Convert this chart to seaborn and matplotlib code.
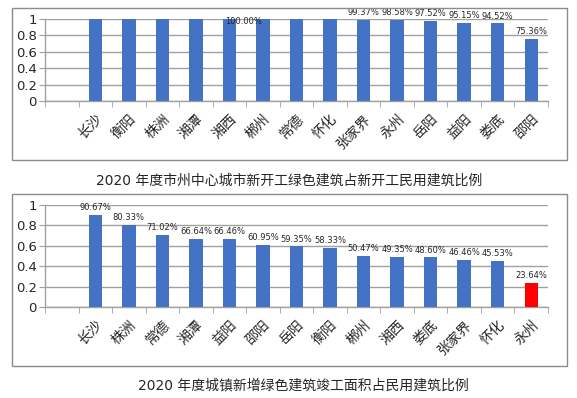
import numpy as np
import pandas as pd
import seaborn as sns
import matplotlib.pyplot as plt
from matplotlib.patches import Rectangle
from matplotlib.ticker import FixedLocator, FuncFormatter

# top chart: 市州中心城市新开工绿色建筑占比
top_cities = ["长沙", "衡阳", "株洲", "湘潭", "湘西", "郴州", "常德",
              "怀化", "张家界", "永州", "岳阳", "益阳", "娄底", "邵阳"]
top_values = [1.0, 1.0, 1.0, 1.0, 1.0, 1.0, 1.0,
              1.0, 0.9937, 0.9858, 0.9752, 0.9515, 0.9452, 0.7536]
top_labels = ["", "", "", "", "", "100.00%", "",
              "", "99.37%", "98.58%", "97.52%", "95.15%", "94.52%", "75.36%"]
top_title = "2020 年度市州中心城市新开工绿色建筑占新开工民用建筑比例"

# bottom chart: 城镇新增绿色建筑竣工面积占比
bot_cities = ["长沙", "株洲", "常德", "湘潭", "益阳", "邵阳", "岳阳",
              "衡阳", "郴州", "湘西", "娄底", "张家界", "怀化", "永州"]
bot_values = [0.9067, 0.8033, 0.7102, 0.6664, 0.6646, 0.6095, 0.5935,
              0.5833, 0.5047, 0.4935, 0.4860, 0.4646, 0.4553, 0.2364]
bot_title = "2020 年度城镇新增绿色建筑竣工面积占民用建筑比例"

yticks = [0, 0.2, 0.4, 0.6, 0.8, 1.0]

sns.set_style("white")
plt.rcParams["font.family"] = ["DejaVu Sans", "Noto Sans CJK SC"]

BLUE = "#4472C4"
RED = "#FF0000"
GRID = "#A0A0A0"
BOX = "#8C8C8C"

W, H = 577, 398
fig = plt.figure(figsize=(W / 100, H / 100), dpi=100)


def px_rect(x0, y0, x1, y1):
    # pixel box (top-left origin) -> figure fraction rect
    return [x0 / W, 1 - y1 / H, (x1 - x0) / W, (y1 - y0) / H]


# outer frames
for box in [(12, 8, 567, 160), (12, 194, 567, 366)]:
    l, b, w, h = px_rect(*box)
    fig.patches.append(Rectangle((l, b), w, h, transform=fig.transFigure,
                                 fill=False, edgecolor=BOX, linewidth=1.0))


def draw(ax, cities, values, colors, labels):
    df = pd.DataFrame({"city": cities, "value": values})
    sns.barplot(data=df, x="city", y="value", hue="city", palette=colors,
                legend=False, width=0.4, saturation=1, linewidth=0,
                ax=ax, zorder=3)
    n = len(cities)
    ax.set_xlim(-1.5, n - 0.5)
    ax.set_ylim(0, 1.0)
    ax.set_xlabel("")
    ax.set_ylabel("")
    ax.set_yticks(yticks)
    ax.yaxis.set_major_formatter(FuncFormatter(lambda v, p: "%g" % v))
    ax.yaxis.grid(True, color=GRID, linewidth=1.0, zorder=0)
    ax.tick_params(axis="y", length=4, color=GRID, labelsize=9.5, pad=2,
                   left=True)
    # category boundaries get the tick marks, like the office chart
    ax.xaxis.set_minor_locator(FixedLocator(np.arange(-1.5, n, 1.0)))
    ax.tick_params(axis="x", which="major", length=0, pad=8)
    ax.tick_params(axis="x", which="minor", length=4, color=GRID,
                   bottom=True)
    ax.set_xticks(range(n))
    ax.set_xticklabels(cities, rotation=45, ha="right",
                       rotation_mode="anchor", fontsize=10,
                       family=["Noto Sans CJK SC"])
    for side in ["top", "right"]:
        ax.spines[side].set_visible(False)
    for side in ["left", "bottom"]:
        ax.spines[side].set_color(GRID)
        ax.spines[side].set_linewidth(1.0)
    for i, (v, lab) in enumerate(zip(values, labels)):
        if lab:
            ax.annotate(lab, (i, v), xytext=(0, 2), textcoords="offset points",
                        ha="center", va="bottom", fontsize=6, zorder=4)


ax1 = fig.add_axes(px_rect(45, 19, 548, 101))
draw(ax1, top_cities, top_values, [BLUE] * len(top_cities), top_labels)
# the 100.00% label sits off to the left in the source
ax1.texts[0].set_position((-14, -5))

ax2 = fig.add_axes(px_rect(45, 205, 548, 307))
bot_colors = [BLUE] * (len(bot_cities) - 1) + [RED]
bot_labels = ["%.2f%%" % (v * 100) for v in bot_values]
draw(ax2, bot_cities, bot_values, bot_colors, bot_labels)

fig.text(289 / W, 1 - 181 / H, top_title, ha="center", va="center",
         fontsize=10, family=["DejaVu Sans", "Noto Sans CJK SC"])
fig.text(303 / W, 1 - 385 / H, bot_title, ha="center", va="center",
         fontsize=10, family=["DejaVu Sans", "Noto Sans CJK SC"])

fig.savefig("out.png", dpi=100)
